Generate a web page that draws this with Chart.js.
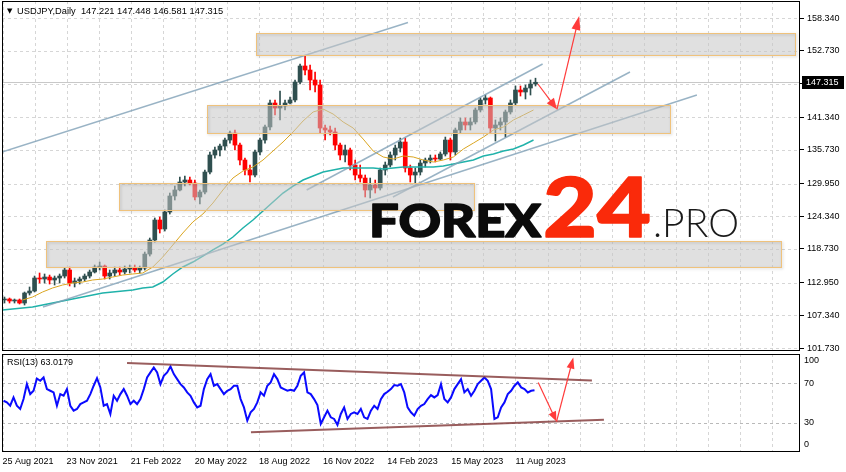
<!DOCTYPE html>
<html>
<head>
<meta charset="utf-8">
<title>USDJPY Daily</title>
<script src="https://cdn.jsdelivr.net/npm/chart.js@4.4.1/dist/chart.umd.min.js"></script>
<style>
  html, body { margin: 0; padding: 0; background: #fff; }
  #wrap { position: relative; width: 846px; height: 472px; overflow: hidden; }
  #priceChart { position: absolute; left: 0; top: 0; }
  #rsiChart { position: absolute; left: 0; top: 352px; }
</style>
</head>
<body>
<div id="wrap">
  <canvas id="priceChart" width="846" height="352"></canvas>
  <canvas id="rsiChart" width="846" height="120"></canvas>
</div>
<script>
// weekly candles, 5 trading days each, first one = 25 Aug 2021
const weekOpen = [109.97,110.14,109.80,109.97,109.45,111.17,111.51,113.74,113.57,113.91,113.40,113.74,114.08,115.11,112.88,113.23,113.57,114.08,114.77,115.63,
  115.80,114.08,114.60,115.11,114.77,115.28,115.45,115.11,115.45,117.85,120.26,123.69,122.15,125.06,127.81,128.84,130.21,130.55,130.04,127.64,
  128.49,131.92,134.84,135.70,136.38,137.41,138.61,136.55,133.98,132.27,131.41,135.36,137.41,139.65,143.76,142.90,143.25,143.76,144.28,147.36,
  150.11,149.42,147.71,146.85,139.47,139.13,138.79,136.55,134.84,135.70,133.12,131.41,130.89,128.84,129.69,129.18,132.27,133.12,134.84,136.04,
  137.07,132.61,131.41,131.92,133.47,133.98,134.32,134.15,135.01,137.41,135.36,139.13,140.51,139.99,140.51,142.56,144.28,144.62,139.47,139.99,
  140.51,142.22,143.76,145.99,145.65,146.33,147.02];
const weekHigh = [110.48,110.31,110.14,110.14,111.34,112.20,114.08,114.60,114.43,114.25,114.08,114.43,115.45,115.63,113.74,113.91,114.43,115.11,115.97,116.48,
  115.97,115.11,115.63,115.63,115.80,115.97,115.97,115.80,118.20,120.60,124.04,124.21,125.41,128.32,129.52,131.07,131.24,131.07,130.55,128.84,
  132.27,135.36,136.21,136.72,137.75,138.96,139.13,136.89,134.32,133.12,135.70,137.75,139.99,144.28,144.28,145.82,144.28,144.79,147.71,150.45,
  151.82,150.28,149.08,147.71,139.99,139.82,139.47,136.89,136.55,136.04,133.98,133.12,131.41,130.89,130.55,132.61,133.64,135.36,136.55,137.75,
  137.75,133.12,132.61,133.98,134.32,134.84,134.84,135.36,137.92,137.75,139.47,141.19,141.19,141.19,142.90,144.62,145.13,144.79,140.85,141.19,
  142.56,144.28,146.68,146.68,146.85,147.71,148.02];
const weekLow = [109.45,109.45,109.45,109.28,109.11,110.82,111.34,112.88,112.88,112.71,112.54,112.88,113.74,112.37,112.20,112.71,113.23,113.74,114.60,115.11,
  113.57,113.57,114.08,114.25,114.43,114.60,114.77,114.60,115.11,117.51,119.91,121.46,121.80,124.72,127.12,128.66,129.52,129.69,127.12,126.43,
  128.15,131.58,134.32,134.67,135.70,136.89,135.70,133.12,131.41,130.21,131.07,134.84,136.89,139.13,141.70,140.85,142.56,143.59,143.93,147.02,
  148.56,145.99,145.65,138.61,137.41,138.27,135.70,133.98,133.64,132.27,130.55,130.21,127.64,127.47,128.32,128.84,131.41,132.78,133.98,135.36,
  131.92,130.21,130.04,131.41,132.78,133.47,133.64,133.98,134.67,133.98,134.84,138.61,139.13,139.13,140.17,142.22,143.59,138.61,137.24,139.13,
  137.92,141.87,143.42,144.96,144.45,145.13,146.68];
const weekClose = [110.14,109.80,109.97,109.45,111.17,111.51,113.74,113.57,113.91,113.40,113.74,114.08,115.11,112.88,113.23,113.57,114.08,114.77,115.63,115.80,
  114.08,114.60,115.11,114.77,115.28,115.45,115.11,115.45,117.85,120.26,123.69,122.15,125.06,127.81,128.84,130.21,130.55,130.04,127.64,128.49,
  131.92,134.84,135.70,136.38,137.41,138.61,136.55,133.98,132.27,131.41,135.36,137.41,139.65,143.76,142.90,143.25,143.76,144.28,147.36,150.11,
  149.42,147.71,146.85,139.47,139.13,138.79,136.55,134.84,135.70,133.12,131.41,130.89,128.84,129.69,129.18,132.27,133.12,134.84,136.04,137.07,
  132.61,131.41,131.92,133.47,133.98,134.32,134.15,135.01,137.41,135.36,139.13,140.51,139.99,140.51,142.56,144.28,144.62,139.47,139.99,140.51,
  142.22,143.76,145.99,145.65,146.33,147.02,147.32];
const barsPerWeek = 5;

// moving averages, one reading every 10 bars from bar 0
const maFast = [null,null,109.97,110.48,111.34,112.03,112.54,112.88,113.05,113.40,113.57,113.91,114.25,114.43,114.60,115.63,117.34,119.40,121.46,123.35,
  124.72,126.60,128.84,130.89,132.09,132.78,133.98,135.53,137.07,138.79,140.68,142.22,142.73,141.87,140.51,139.47,137.58,135.53,134.50,134.15,
  134.67,134.50,133.98,133.64,133.98,134.50,135.87,136.89,137.92,139.13,139.65,140.85,141.70,142.56];
const maSlow = [108.25,108.42,108.59,108.76,109.11,109.45,109.80,110.14,110.48,110.82,111.17,111.34,111.51,111.68,112.03,112.20,113.05,114.43,115.63,116.48,
  117.51,118.55,119.57,120.77,122.32,123.69,125.23,126.78,128.32,129.52,130.55,131.24,131.92,132.27,132.61,132.61,132.61,132.61,132.44,132.61,
  132.78,132.78,132.78,132.78,132.95,133.30,133.64,133.98,134.67,135.01,135.53,135.87,136.55,137.41];
const maStepBars = 10;

// RSI(13), one reading every 10/3 bars
const rsiValues = [52.3,50.6,47.2,55.7,47.2,43.9,54.0,69.3,59.1,62.5,75.0,72.7,76.1,64.2,62.5,60.8,47.2,59.1,57.4,64.2,
  47.2,42.2,43.9,48.9,50.6,52.3,59.1,67.6,75.4,65.9,47.2,48.9,38.8,57.4,52.3,59.1,64.2,57.4,48.9,52.3,
  48.9,54.0,64.2,76.1,81.2,86.2,81.2,69.3,77.8,81.2,87.2,79.5,74.4,69.3,65.9,60.8,57.4,50.6,45.5,47.2,
  64.2,74.4,79.5,67.6,69.3,64.2,59.1,62.5,64.2,67.6,67.6,54.0,45.5,32.0,40.5,43.9,50.6,60.8,57.4,67.6,
  71.0,79.5,74.4,65.9,64.2,62.5,
  63.5,62.5,67.6,77.8,81.2,60.8,59.1,54.0,47.9,28.6,35.4,42.2,35.4,33.7,27.5,38.8,45.5,33.7,38.8,40.5,
  38.8,43.9,35.4,33.7,42.2,47.2,43.9,54.0,59.1,61.5,64.2,68.3,67.6,69.3,60.8,45.5,40.5,37.1,43.9,47.2,
  48.9,54.0,58.1,55.7,58.1,69.3,54.0,50.6,55.7,64.2,69.3,74.4,60.8,64.2,57.4,62.5,69.3,72.7,76.1,72.7,
  64.2,33.7,35.4,45.5,50.6,59.1,62.5,67.6,71.0,65.9,64.2,60.8,62.5,63.02];
const rsiFirstBar = 1;
const rsiStepBars = 10 / 3;

const xTickLabels = ['25 Aug 2021', '23 Nov 2021', '21 Feb 2022', '20 May 2022', '18 Aug 2022',
  '16 Nov 2022', '14 Feb 2023', '15 May 2023', '11 Aug 2023'];
const priceTicks = [101.73, 107.34, 112.95, 118.73, 124.34, 129.95, 135.73, 141.34, 147.03, 152.73, 158.34];
const priceTickLabels = ['101.730', '107.340', '112.950', '118.730', '124.340', '129.950', '135.730', '141.340', '', '152.730', '158.340'];
const rsiLevels = [0, 30, 70, 100];
const rsiDashedLevels = [30, 70];

// drawn objects: zones, trend lines and arrows (bar index, price)
const zoneTop = [155.72, 143.41, 129.98, 120.14];
const zoneBottom = [152.00, 138.56, 125.41, 115.57];
const zoneFrom = [253, 204, 116, 43];
const zoneTo = [791, 666, 471, 777];
const trendFrom = [[-0.5, 135.36], [303.6, 128.84], [389.7, 127.64], [40.4, 108.76]];
const trendTo = [[404.7, 157.57], [539.1, 150.45], [626.3, 149.08], [693.1, 145.13]];
const priceArrows = [[[534.4, 147.02], [553.4, 142.68]], [[553.4, 142.68], [575.6, 158.68]]];
const rsiTrendFrom = [[124.3, 90.8], [248.0, 20.1]];
const rsiTrendTo = [[588.3, 73.0], [600.3, 32.9]];
const rsiArrows = [[[534.7, 71.0], [553.0, 31.0]], [[553.0, 31.0], [569.7, 96.4]]];

const lastQuote = { open: 147.221, high: 147.448, low: 146.581, close: 147.315 };
const rsiLast = 63.0179;

const X_MIN = -0.5, X_MAX = 796;
const gridBars = Array.from({ length: 25 }, (_, k) => k * 32);
const GRID = '#d6d6d6';
const AXIS_FONT = { family: 'Liberation Sans', size: 9 };

Chart.defaults.font.family = 'Liberation Sans';

function drawArrow(ctx, x1, y1, x2, y2, len, half) {
    const a = Math.atan2(y2 - y1, x2 - x1), c = Math.cos(a), s = Math.sin(a);
    ctx.save();
    ctx.strokeStyle = '#ff3b3b';
    ctx.fillStyle = '#ff3b3b';
    ctx.lineWidth = 1.2;
    ctx.beginPath();
    ctx.moveTo(x1, y1);
    ctx.lineTo(x2 - c * len * 0.7, y2 - s * len * 0.7);
    ctx.stroke();
    ctx.beginPath();
    ctx.moveTo(x2, y2);
    ctx.lineTo(x2 - c * len - s * half, y2 - s * len + c * half);
    ctx.lineTo(x2 - c * len + s * half, y2 - s * len - c * half);
    ctx.closePath();
    ctx.fill();
    ctx.restore();
}

function fitText(ctx, text, font, color, x, baseline, width, stroke) {
    ctx.save();
    ctx.font = font;
    ctx.fillStyle = color;
    ctx.strokeStyle = color;
    ctx.lineJoin = 'round';
    ctx.textBaseline = 'alphabetic';
    const w = ctx.measureText(text).width;
    ctx.translate(x, baseline);
    ctx.scale(width / w, 1);
    ctx.fillText(text, 0, 0);
    if (stroke) {
        ctx.lineWidth = stroke;
        ctx.strokeText(text, 0, 0);
    }
    ctx.restore();
}

function drawFrame(ctx, a) {
    ctx.save();
    ctx.strokeStyle = '#000';
    ctx.lineWidth = 1;
    ctx.strokeRect(Math.round(a.left) + 0.5, Math.round(a.top) + 0.5,
        Math.round(a.right - a.left) - 1, Math.round(a.bottom - a.top) - 1);
    ctx.restore();
}

// dashed MT4-style grid, placed by the scales' own ticks
function makeGrid(rowColor) {
    return {
        id: 'dashedGrid',
        beforeDatasetsDraw(chart) {
            const { ctx, chartArea: a, scales: { x, y } } = chart;
            ctx.save();
            ctx.lineWidth = 1;
            ctx.setLineDash([3, 3]);
            ctx.strokeStyle = GRID;
            x.ticks.forEach(t => {
                const px = Math.round(x.getPixelForValue(t.value)) + 0.5;
                if (px <= a.left + 1 || px >= a.right - 1) return;
                ctx.beginPath();
                ctx.moveTo(px, a.top);
                ctx.lineTo(px, a.bottom);
                ctx.stroke();
            });
            y.ticks.forEach(t => {
                const col = rowColor(t.value);
                if (!col) return;
                const py = Math.round(y.getPixelForValue(t.value)) + 0.5;
                ctx.strokeStyle = col;
                ctx.beginPath();
                ctx.moveTo(a.left, py);
                ctx.lineTo(a.right, py);
                ctx.stroke();
            });
            ctx.restore();
        }
    };
}

// 1) price panel overlays
const priceOverlay = {
    id: 'priceOverlay',
    beforeDatasetsDraw(chart) {
        const { ctx, chartArea: a, scales: { y } } = chart;
        const py = Math.round(y.getPixelForValue(lastQuote.close)) + 0.5;
        ctx.save();
        ctx.strokeStyle = '#c8c8c8';
        ctx.lineWidth = 1;
        ctx.beginPath();
        ctx.moveTo(a.left, py);
        ctx.lineTo(a.right, py);
        ctx.stroke();
        ctx.restore();
    },
    afterDatasetsDraw(chart) {
        const { ctx, scales: { x, y } } = chart;
        ctx.save();
        zoneTop.forEach((top, i) => {
            const x1 = Math.round(x.getPixelForValue(zoneFrom[i]));
            const x2 = Math.round(x.getPixelForValue(zoneTo[i]));
            const y1 = Math.round(y.getPixelForValue(top));
            const y2 = Math.round(y.getPixelForValue(zoneBottom[i]));
            ctx.fillStyle = 'rgba(198,198,198,0.54)';
            ctx.fillRect(x1, y1, x2 - x1, y2 - y1);
            ctx.shadowColor = 'rgba(0,0,0,0.22)';
            ctx.shadowBlur = 3;
            ctx.shadowOffsetX = 1;
            ctx.shadowOffsetY = 1;
            ctx.strokeStyle = '#efc27c';
            ctx.lineWidth = 1;
            ctx.strokeRect(x1 + 0.5, y1 + 0.5, x2 - x1, y2 - y1);
            ctx.shadowColor = 'transparent';
        });
        ctx.restore();
        priceArrows.forEach(([p, q], i) => drawArrow(ctx,
            x.getPixelForValue(p[0]), y.getPixelForValue(p[1]),
            x.getPixelForValue(q[0]), y.getPixelForValue(q[1]), i ? 14 : 11, 4.5));
    },
    afterDraw(chart) {
        const { ctx, chartArea: a, scales: { y } } = chart;
        drawFrame(ctx, a);

        // last price box
        const py = y.getPixelForValue(lastQuote.close);
        ctx.save();
        ctx.fillStyle = '#000';
        ctx.fillRect(a.right + 2, Math.round(py) - 6, 42, 13);
        ctx.fillStyle = '#fff';
        ctx.font = '9px "Liberation Sans"';
        ctx.textBaseline = 'middle';
        ctx.fillText(lastQuote.close.toFixed(3), a.right + 6, py + 0.5);

        // title
        ctx.fillStyle = '#000';
        ctx.font = '7px "DejaVu Sans"';
        ctx.fillText('\u25BC', a.left + 5, 11);
        ctx.font = '9.3px "Liberation Sans"';
        const q = lastQuote;
        ctx.fillText('USDJPY,Daily  ' + [q.open, q.high, q.low, q.close].map(v => v.toFixed(3)).join(' '), a.left + 15, 11);
        ctx.restore();

        // watermark
        fitText(ctx, 'FOREX', '900 46px Lato', '#0b0b0b', 369, 237, 172, 1.5);
        fitText(ctx, '24', '900 81px Lato', '#fa2a0a', 543, 237, 108, 1.5);
        fitText(ctx, '.PRO', '300 40px Lato', '#1a1a1a', 653, 237, 86);
    }
};

// 2) RSI panel overlays
const rsiOverlay = {
    id: 'rsiOverlay',
    afterDatasetsDraw(chart) {
        const { ctx, scales: { x, y } } = chart;
        rsiArrows.forEach(([p, q], i) => drawArrow(ctx,
            x.getPixelForValue(p[0]), y.getPixelForValue(p[1]),
            x.getPixelForValue(q[0]), y.getPixelForValue(q[1]), i ? 11 : 10, 4));
    },
    afterDraw(chart) {
        const { ctx, chartArea: a, scales: { y } } = chart;
        drawFrame(ctx, a);
        ctx.save();
        ctx.fillStyle = '#000';
        ctx.font = '9px "Liberation Sans"';
        ctx.textBaseline = 'middle';
        rsiLevels.forEach(v => {
            const py = Math.min(Math.max(y.getPixelForValue(v), a.top + 7), a.bottom - 7);
            ctx.fillText(String(v), a.right + 4, py);
        });
        ctx.fillText('RSI(13) ' + rsiLast.toFixed(4), a.left + 5, a.top + 9);
        ctx.restore();
    }
};

const candleX = weekOpen.map((_, i) => i * barsPerWeek + 2);
const candleColor = weekOpen.map((o, i) => weekClose[i] >= o ? '#2f4f4f' : '#ff0000');

const xScaleBase = {
    type: 'linear', min: X_MIN, max: X_MAX, bounds: 'data', offset: false,
    afterBuildTicks: s => { s.ticks = gridBars.map(v => ({ value: v })); },
    border: { display: false }
};

new Chart(document.getElementById('priceChart'), {
    type: 'bar',
    data: {
        datasets: [
            ...trendFrom.map((p, i) => ({
                type: 'line',
                data: [{ x: p[0], y: p[1] }, { x: trendTo[i][0], y: trendTo[i][1] }],
                borderColor: 'rgba(128,160,182,0.8)', borderWidth: 1.5, pointRadius: 0
            })),
            {
                type: 'line',
                data: maFast.map((v, i) => ({ x: i * maStepBars, y: v })),
                borderColor: '#daa520', borderWidth: 1, pointRadius: 0
            },
            {
                type: 'line',
                data: maSlow.map((v, i) => ({ x: i * maStepBars, y: v })),
                borderColor: '#20b2aa', borderWidth: 1.5, pointRadius: 0
            },
            {
                data: candleX.map((x, i) => ({ x, y: [weekOpen[i], weekClose[i]] })),
                backgroundColor: candleColor, barThickness: 4, grouped: false, minBarLength: 1
            },
            {
                data: candleX.map((x, i) => ({ x, y: [weekLow[i], weekHigh[i]] })),
                backgroundColor: candleColor, barThickness: 1, grouped: false
            }
        ]
    },
    options: {
        responsive: false, animation: false, events: [], devicePixelRatio: 1,
        layout: { padding: { left: 2, top: 1, right: 0, bottom: 1 } },
        plugins: { legend: { display: false }, tooltip: { enabled: false } },
        scales: {
            x: {
                ...xScaleBase,
                afterFit: s => { s.height = 0; s.paddingLeft = 0; s.paddingRight = 0; },
                ticks: { display: false },
                grid: { display: false, drawTicks: false }
            },
            y: {
                position: 'right', min: 101.22, max: 161.26, bounds: 'data',
                afterBuildTicks: s => { s.ticks = priceTicks.map(v => ({ value: v })); },
                afterFit: s => { s.width = 46; s.paddingTop = 0; s.paddingBottom = 0; },
                ticks: { callback: (v, i) => priceTickLabels[i], color: '#000', font: AXIS_FONT, padding: 3, autoSkip: false },
                grid: { drawOnChartArea: false, tickColor: '#000', tickLength: 4, drawTicks: true },
                border: { display: false }
            }
        }
    },
    plugins: [makeGrid(() => GRID), priceOverlay]
});

new Chart(document.getElementById('rsiChart'), {
    type: 'line',
    data: {
        datasets: [
            ...rsiTrendFrom.map((p, i) => ({
                data: [{ x: p[0], y: p[1] }, { x: rsiTrendTo[i][0], y: rsiTrendTo[i][1] }],
                borderColor: 'rgba(135,65,65,0.85)', borderWidth: 2, pointRadius: 0
            })),
            {
                data: rsiValues.map((v, i) => ({ x: rsiFirstBar + i * rsiStepBars, y: v })),
                borderColor: '#0a0aff', borderWidth: 2, pointRadius: 0
            }
        ]
    },
    options: {
        responsive: false, animation: false, events: [], devicePixelRatio: 1,
        layout: { padding: { left: 2, top: 2, right: 0, bottom: 0 } },
        plugins: { legend: { display: false }, tooltip: { enabled: false } },
        scales: {
            x: {
                ...xScaleBase,
                afterFit: s => { s.height = 20; s.paddingLeft = 0; s.paddingRight = 0; },
                ticks: {
                    callback: v => (v % 64 === 0 && xTickLabels[v / 64]) ? xTickLabels[v / 64] : '',
                    align: 'start', autoSkip: false, maxRotation: 0, minRotation: 0,
                    color: '#000', font: AXIS_FONT, padding: 4
                },
                grid: { display: false, drawTicks: false }
            },
            y: {
                position: 'right', min: 0, max: 100, bounds: 'data',
                afterBuildTicks: s => { s.ticks = rsiLevels.map(v => ({ value: v })); },
                afterFit: s => { s.width = 46; s.paddingTop = 0; s.paddingBottom = 0; },
                ticks: { display: false },
                grid: { display: false, drawTicks: false },
                border: { display: false }
            }
        }
    },
    plugins: [makeGrid(v => rsiDashedLevels.includes(v) ? '#b9b9b9' : null), rsiOverlay]
});
</script>
</body>
</html>
